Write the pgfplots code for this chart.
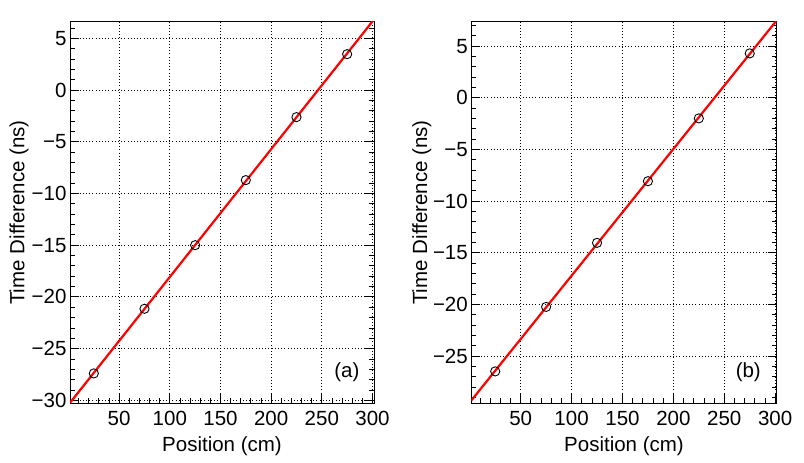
\documentclass[border=0pt]{standalone}
\usepackage{fontspec}
\setmainfont{Liberation Sans}
\usepackage{pgfplots}
\pgfplotsset{compat=1.18}
\pgfplotstableread{
x y
25 -27.40
75 -21.15
125 -15.00
175 -8.71
225 -2.62
275 3.47
}\dataA
\pgfplotstableread{
x y
25 -26.49
75 -20.25
125 -14.05
175 -8.08
225 -2.00
275 4.29
}\dataB
\pgfplotsset{
  rootstyle/.style={
    scale only axis,
    height=381bp,
    font=\fontsize{20.5bp}{24bp}\selectfont,
    tick label style={font=\fontsize{20.5bp}{24bp}\selectfont},
    label style={font=\fontsize{20.5bp}{24bp}\selectfont},
    axis line style={black, line width=1bp},
    tick align=inside,
    xtick pos=bottom,
    ytick pos=both,
    tick style={black, line width=0.8bp},
    major tick length=9bp,
    minor tick length=4.5bp,
    xmin=1.5, xmax=301.5,
    xtick={50,100,150,200,250,300},
    minor xtick={10,20,...,300},
    minor ytick={-30,-29,...,7},
    grid=major,
    major grid style={black, line width=0.8bp, dash pattern=on 0.8bp off 2.4bp},
    xticklabel style={yshift=-5bp},
    xlabel={Position (cm)},
    ylabel={Time Difference (ns)},
    xlabel style={at={(axis description cs:0.5,0)}, anchor=center, yshift=-43bp},
    /pgf/number format/assume math mode=true,
  }
}
\begin{document}
\begin{tikzpicture}
\useasboundingbox (0,0) rectangle (804bp,463bp);
\begin{axis}[rootstyle,
  at={(70bp,60bp)}, anchor=south west,
  width=304bp,
  ymin=-30.26, ymax=6.58,
  ytick={-30,-25,-20,-15,-10,-5,0,5},
  yticklabels={−30,−25,−20,−15,−10,−5,0,5},
  ylabel style={at={([xshift=-51bp]axis description cs:0,0.5)}, anchor=center},
]
\addplot[only marks, mark=o, mark size=4.6bp, mark options={black, line width=0.9bp}] table[x=x,y=y] {\dataA};
\addplot[red, line width=2.2bp] coordinates {(1.5,-30.245) (301.5,6.82)};
\node at (axis description cs:0.911,0.082) {(a)};
\end{axis}
\begin{axis}[rootstyle,
  at={(471.3bp,60bp)}, anchor=south west,
  width=305.4bp,
  ymin=-29.55, ymax=7.33,
  ytick={-25,-20,-15,-10,-5,0,5},
  yticklabels={−25,−20,−15,−10,−5,0,5},
  ylabel style={at={([xshift=-49.6bp]axis description cs:0,0.5)}, anchor=center},
]
\addplot[only marks, mark=o, mark size=4.6bp, mark options={black, line width=0.9bp}] table[x=x,y=y] {\dataB};
\addplot[red, line width=2.2bp] coordinates {(1.5,-29.306) (301.5,7.486)};
\node at (axis description cs:0.907,0.082) {(b)};
\end{axis}
\end{tikzpicture}
\end{document}
